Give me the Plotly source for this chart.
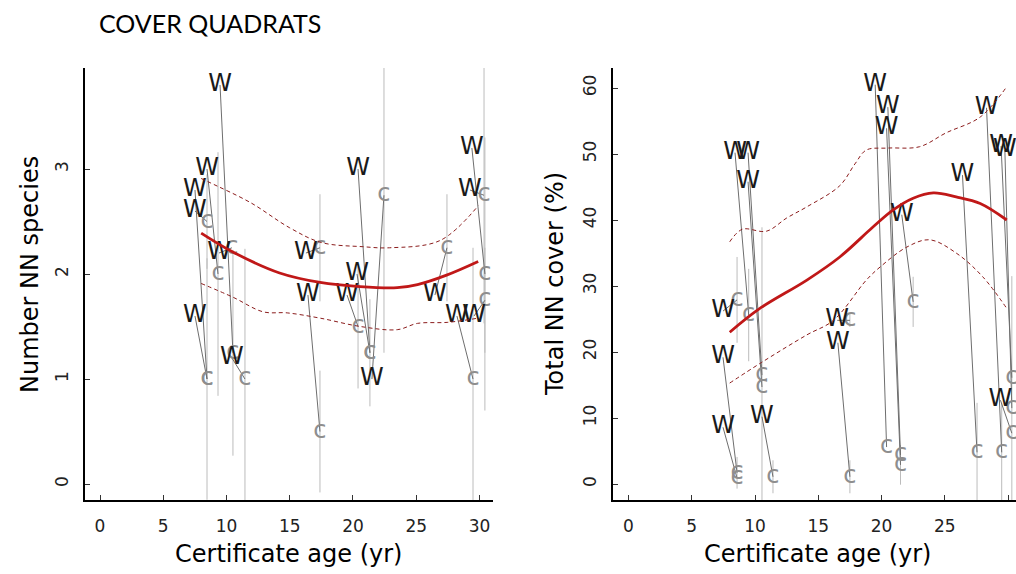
import plotly.graph_objects as go

FIG_W, FIG_H = 1016, 574

# ---- Number of non-native species (left panel) ----
# W = site values, c = paired control values (with +/- spread)
sp_w_age = [9.49, 8.46, 7.51, 7.51, 9.41, 7.51, 10.43, 16.28, 16.44, 20.40, 20.32, 19.53,
            21.50, 26.48, 29.40, 29.25, 28.22, 29.57]
sp_w_val = [3.8, 3.0, 2.8, 2.6, 2.2, 1.6, 1.2, 2.2, 1.8, 3.0, 2.0, 1.8, 1.0, 1.8, 3.2, 2.8, 1.6, 1.6]
sp_c_age = [10.51, 9.33, 8.46, 8.46, 10.43, 8.46, 11.46, 17.39, 17.39, 21.34, 21.34, 20.40,
            22.45, 27.43, 30.43, 30.36, 29.49, 30.43]
sp_c_val = [1.25, 2.0, 1.0, 2.5, 2.25, 1.0, 1.0, 2.25, 0.5, 1.25, 1.25, 1.5, 2.75, 2.25, 2.0, 2.75, 1.0, 1.75]
sp_c_err = [0.98, 1.16, 1.15, 0.45, 0.0, 0.0, 1.24, 0.51, 0.58, 0.51, 0.0, 0.59, 1.5, 0.51, 1.3, 1.22, 1.25, 0.5]

# fitted trend and confidence band
sp_fit_age = [8.0, 10.5, 14.2, 17.4, 20.55, 23.5, 25.1, 27.4, 29.9]
sp_fit_val = [2.39, 2.21, 2.01, 1.92, 1.88, 1.87, 1.90, 1.99, 2.12]
sp_hi_age = [8.0, 8.7, 11.9, 15.0, 17.5, 20.8, 22.9, 26.9, 29.9]
sp_hi_val = [2.91, 2.87, 2.68, 2.44, 2.30, 2.26, 2.25, 2.32, 2.65]
sp_lo_age = [8.0, 10.5, 12.9, 14.8, 17.4, 20.6, 23.5, 25.1, 27.5, 29.9]
sp_lo_val = [1.91, 1.78, 1.64, 1.63, 1.58, 1.50, 1.47, 1.53, 1.54, 1.58]

# ---- Total non-native cover (right panel) ----
cv_w_age = [7.47, 7.47, 7.47, 8.42, 9.45, 9.45, 10.55, 16.50, 16.55, 19.50, 20.50, 20.40,
            21.60, 26.40, 28.30, 29.45, 29.75, 29.40]
cv_w_val = [26.2, 19.2, 8.6, 50.2, 50.2, 45.8, 10.2, 24.8, 21.4, 60.5, 57.1, 53.9,
            40.8, 46.8, 57.0, 51.2, 50.6, 12.7]
cv_c_age = [8.58, 8.58, 8.58, 9.50, 10.55, 10.55, 11.42, 17.50, 17.50, 20.40, 21.50, 21.50,
            22.50, 27.55, 29.50, 30.30, 30.30, 30.30]
cv_c_val = [27.9, 1.7, 0.9, 25.6, 16.5, 14.7, 1.1, 24.8, 1.1, 5.6, 4.4, 2.9, 27.6, 4.8, 4.8, 16.1, 11.5, 7.7]
cv_c_err = [6.5, 2.4, 0.0, 7.0, 22.4, 0.0, 2.5, 1.0, 2.5, 0.0, 0.0, 3.0, 3.8, 7.5, 7.5, 0.0, 20.0, 0.0]

cv_fit_age = [8.0, 10.3, 14.1, 16.7, 19.3, 20.9, 22.5, 24.1, 25.9, 27.8, 29.9]
cv_fit_val = [23.0, 26.5, 30.9, 34.4, 38.9, 41.5, 43.3, 44.1, 43.5, 42.5, 40.0]
cv_hi_age = [8.0, 9.0, 10.9, 12.5, 14.1, 16.7, 17.9, 18.8, 20.5, 23.0, 25.1, 27.8, 29.9]
cv_hi_val = [36.7, 38.6, 38.3, 40.3, 42.0, 45.2, 48.5, 50.6, 50.9, 51.1, 53.2, 55.6, 60.2]
cv_lo_age = [8.0, 10.5, 14.1, 16.2, 18.8, 19.9, 22.0, 23.8, 25.9, 28.0, 29.9]
cv_lo_val = [15.3, 18.4, 22.6, 24.8, 30.9, 32.9, 35.9, 37.0, 35.0, 31.4, 26.6]

x_ticks = [0, 5, 10, 15, 20, 25, 30]
sp_y_ticks = [0, 1, 2, 3]
cv_y_ticks = [0, 10, 20, 30, 40, 50, 60]

FONT = "DejaVu Sans"
fig = go.Figure()


def add_panel(xa, ya, w_age, w_val, c_age, c_val, c_err,
              f_age, f_val, hi_age, hi_val, lo_age, lo_val):
    common = dict(xaxis=xa, yaxis=ya, showlegend=False, hoverinfo="skip")
    # spread of the control values
    fig.add_trace(go.Scatter(
        x=c_age, y=c_val, mode="markers",
        marker=dict(size=1, color="rgba(0,0,0,0)"),
        error_y=dict(type="data", array=c_err, color="#bcbcbc", thickness=1, width=0),
        **common))
    # segments joining each site to its control
    lx, ly = [], []
    for a, b, c, d in zip(w_age, w_val, c_age, c_val):
        lx += [a, c, None]
        ly += [b, d, None]
    fig.add_trace(go.Scatter(x=lx, y=ly, mode="lines",
                             line=dict(color="#6e6e6e", width=1), **common))
    fig.add_trace(go.Scatter(
        x=c_age, y=c_val, mode="text", text=["c"] * len(c_age),
        textposition="middle center", cliponaxis=False,
        textfont=dict(family=FONT, size=24, color="#8e8e8e"), **common))
    fig.add_trace(go.Scatter(
        x=w_age, y=w_val, mode="text", text=["W"] * len(w_age),
        textposition="middle center", cliponaxis=False,
        textfont=dict(family=FONT, size=24, color="#1a1a1a"), **common))
    # fitted curve with its confidence band
    for ax_, ay_ in ((hi_age, hi_val), (lo_age, lo_val)):
        fig.add_trace(go.Scatter(x=ax_, y=ay_, mode="lines",
                                 line=dict(color="#8b1c1c", width=1, dash="4px,3px", shape="spline"),
                                 **common))
    fig.add_trace(go.Scatter(x=f_age, y=f_val, mode="lines",
                             line=dict(color="#c01818", width=2.8, shape="spline"), **common))


add_panel("x", "y", sp_w_age, sp_w_val, sp_c_age, sp_c_val, sp_c_err,
          sp_fit_age, sp_fit_val, sp_hi_age, sp_hi_val, sp_lo_age, sp_lo_val)
add_panel("x2", "y2", cv_w_age, cv_w_val, cv_c_age, cv_c_val, cv_c_err,
          cv_fit_age, cv_fit_val, cv_hi_age, cv_hi_val, cv_lo_age, cv_lo_val)

y_dom = [1 - 500 / FIG_H, 1 - 68 / FIG_H]
axis_style = dict(showline=True, linecolor="black", linewidth=2, showgrid=False, zeroline=False,
                  ticks="inside", ticklen=5, tickwidth=1, tickcolor="#333333",
                  tickfont=dict(family=FONT, size=17, color="#222222"), mirror=False)

fig.update_layout(
    width=FIG_W, height=FIG_H, margin=dict(l=0, r=0, t=0, b=0),
    paper_bgcolor="white", plot_bgcolor="white",
    xaxis=dict(domain=[85 / FIG_W, 493 / FIG_W], range=[-1.186, 31.07], anchor="y",
               tickvals=x_ticks, ticklabelstandoff=10, **axis_style),
    yaxis=dict(domain=y_dom, range=[-0.152, 3.962], anchor="x",
               tickvals=sp_y_ticks, tickangle=-90, ticklabelstandoff=8, **axis_style),
    xaxis2=dict(domain=[612.7 / FIG_W, 1.0], range=[-1.25, 30.63], anchor="y2",
                tickvals=x_ticks, ticklabelstandoff=10, **axis_style),
    yaxis2=dict(domain=y_dom, range=[-2.42, 63.03], anchor="x2",
                tickvals=cv_y_ticks, tickangle=-90, ticklabelstandoff=8, **axis_style),
)

title_font = dict(family=FONT, size=24, color="black")
annotations = [
    dict(text="COVER QUADRATS", x=97 / FIG_W, y=1 - 23.5 / FIG_H, xanchor="left", yanchor="middle",
         font=dict(family="Lato", size=25, color="black")),
    dict(text="Certificate age (yr)", x=288 / FIG_W, y=1 - 554 / FIG_H, xanchor="center",
         yanchor="middle", font=title_font),
    dict(text="Certificate age (yr)", x=817 / FIG_W, y=1 - 554 / FIG_H, xanchor="center",
         yanchor="middle", font=title_font),
    dict(text="Number NN species", x=30 / FIG_W, y=1 - 275 / FIG_H, xanchor="center",
         yanchor="middle", textangle=-90, font=title_font),
    dict(text="Total NN cover (%)", x=555 / FIG_W, y=1 - 284 / FIG_H, xanchor="center",
         yanchor="middle", textangle=-90, font=title_font),
]
for a in annotations:
    a.update(xref="paper", yref="paper", showarrow=False)
fig.update_layout(annotations=annotations)

fig.write_html("out.html")
